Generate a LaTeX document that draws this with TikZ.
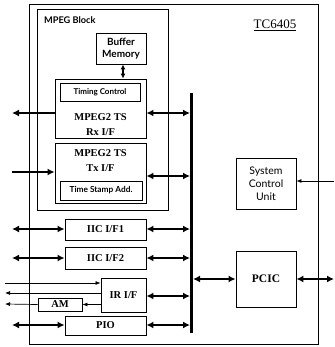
\documentclass[tikz,border=0pt]{standalone}
\usepackage{fontspec}
\setmainfont{Liberation Serif}
\newfontfamily\labsans{Lato}
\usetikzlibrary{arrows.meta}
\begin{document}
\begin{tikzpicture}[x=1pt,y=-1pt,
  box/.style={draw,line width=0.9pt,inner sep=0pt,minimum width=#1},
  txt/.style={inner sep=0pt,align=center},
  thk/.style={line width=1.8pt,{Latex[length=7pt,width=7pt]}-{Latex[length=7pt,width=7pt]}},
  thkin/.style={line width=1.8pt,-{Latex[length=7pt,width=7pt]}},
  thin/.style={line width=0.7pt,-{Latex[length=5pt,width=4pt]}},
  serifb/.style={font=\fontsize{10.5}{15}\selectfont\bfseries},
  sansb/.style={font=\fontsize{10}{12}\selectfont\labsans\bfseries},
]
\useasboundingbox (0,0) rectangle (334,347);
% outer chip and MPEG block
\node[box=289pt,minimum height=340pt] (chip) at (173.5,174) {};
\node[txt,font=\fontsize{13}{14}\selectfont,anchor=center] (chiplab) at (275,25) {\underline{TC6405}};
\node[box=131pt,minimum height=201pt] (mpeg) at (102.5,109.5) {};
\node[txt,font=\fontsize{9.2}{10}\selectfont\labsans\bfseries,anchor=west] (mpeglab) at (44,20) {MPEG Block};
% buffer memory
\node[box=50pt,minimum height=31pt,txt,sansb] (buf) at (121,48.5) {Buffer\\Memory};
% Rx
\node[box=91pt,minimum height=59pt] (rx) at (100.5,108.5) {};
\node[box=80pt,minimum height=18pt,font=\fontsize{8}{10}\selectfont\labsans\bfseries] (tc) at (100,92) {Timing Control};
\node[txt,serifb] (rxlab) at (100.5,124.5) {MPEG2 TS\\Rx I/F};
% Tx
\node[box=91pt,minimum height=60pt] (tx) at (100.5,173) {};
\node[txt,serifb] (txlab) at (100.5,161) {MPEG2 TS\\Tx I/F};
\node[box=82pt,minimum height=19pt,font=\fontsize{8.3}{10}\selectfont\labsans\bfseries] (tsa) at (101,190.5) {Time Stamp Add.};
% other blocks
\node[box=81pt,minimum height=21pt,serifb] (iic1) at (105.5,229.5) {IIC I/F1};
\node[box=81pt,minimum height=22pt,serifb] (iic2) at (105.5,258) {IIC I/F2};
\node[box=45pt,minimum height=34pt,serifb] (ir) at (123.5,295) {IR I/F};
\node[box=44pt,minimum height=13pt,serifb] (am) at (60,304.5) {AM};
\node[box=81pt,minimum height=19pt,serifb] (pio) at (105.5,325.5) {PIO};
\node[box=60pt,minimum height=51pt,txt,font=\fontsize{10.5}{13}\selectfont\labsans] (scu) at (266,183.5) {System\\Control\\Unit};
\node[box=60pt,minimum height=56pt,font=\fontsize{11.5}{13}\selectfont\bfseries] (pcic) at (266,279) {PCIC};
% bus
\coordinate (bustop) at (191.5,93);
\coordinate (busbot) at (191.5,333);
\draw[line width=2.8pt] (bustop) -- (busbot);
% bus connection points
\coordinate (bRx) at (190,113);
\coordinate (bTx) at (190,176);
\coordinate (bI1) at (190,229);
\coordinate (bI2) at (190,258);
\coordinate (bIR) at (190,296);
\coordinate (bPIO) at (190,325);
\coordinate (bPC) at (193,279);
\draw[thk] (rx.east |- bRx) -- (bRx);
\draw[thk] (tx.east |- bTx) -- (bTx);
\draw[thk] (iic1.east |- bI1) -- (bI1);
\draw[thk] (iic2.east |- bI2) -- (bI2);
\draw[thk] (ir.east |- bIR) -- (bIR);
\draw[thk] (pio.east |- bPIO) -- (bPIO);
\draw[thk] (bPC) -- (pcic.west);
% outside ends
\coordinate (oRx) at (12,113);
\coordinate (oTx) at (12,172);
\coordinate (oI1) at (12,229);
\coordinate (oI2) at (12,258);
\coordinate (oPIO) at (12,325);
\coordinate (oIRin) at (5,283);
\coordinate (oIRout) at (5,293);
\coordinate (oAM) at (5,304);
\coordinate (oSCU) at (334,181);
\coordinate (oPC) at (334,279);
\draw[thkin] (rx.west |- oRx) -- (oRx);
\draw[thkin] (oTx) -- (tx.west |- oTx);
\draw[thk] (oI1) -- (iic1.west |- oI1);
\draw[thk] (oI2) -- (iic2.west |- oI2);
\draw[thk] (oPIO) -- (pio.west |- oPIO);
\draw[thin] (oIRin) -- (ir.west |- oIRin);
\draw[thin] (ir.west |- oIRout) -- (oIRout);
\draw[thin] (ir.west |- am.east) -- (am.east);
\draw[thin] (am.west) -- (oAM);
\draw[thin] (oSCU) -- (scu.east |- oSCU);
\draw[thk] (pcic.east) -- (oPC);
% buffer to timing control
\draw[line width=1.5pt,{Latex[length=5pt,width=5pt]}-{Latex[length=5pt,width=5pt]}] ([xshift=2pt]buf.south) -- ([xshift=2pt]buf.south |- rx.north);
\end{tikzpicture}
\end{document}
